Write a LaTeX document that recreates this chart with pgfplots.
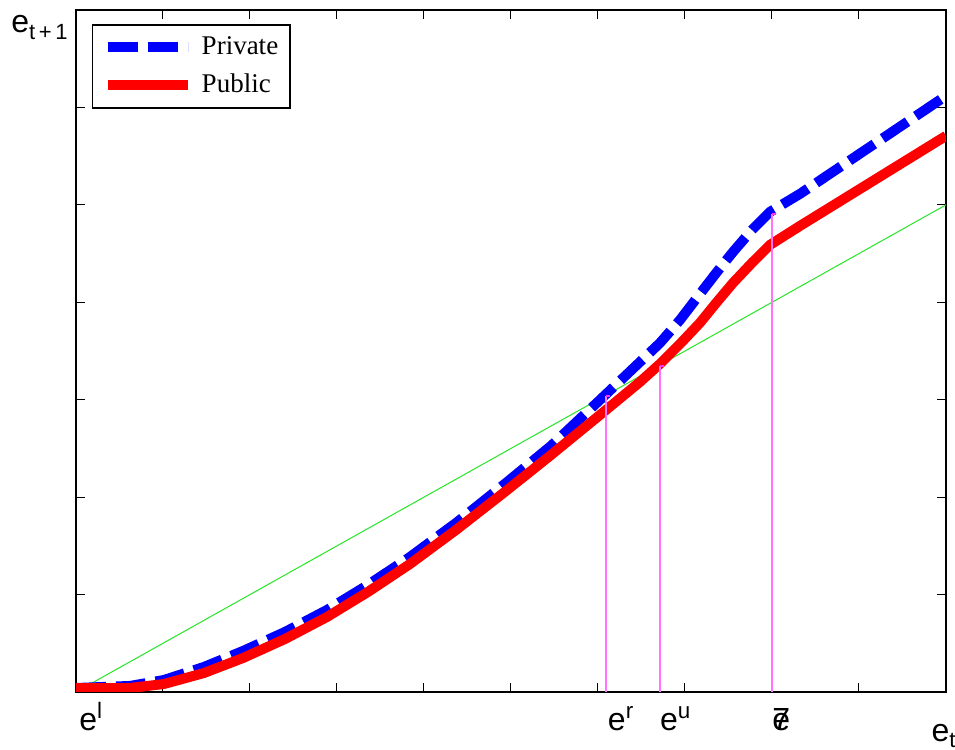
\documentclass[border=0pt]{standalone}
\usepackage{fontspec}
\setmainfont{Liberation Serif}
\setsansfont{Liberation Sans}
\usepackage{pgfplots}
\usepackage{pgfplotstable}
\pgfplotsset{compat=1.18}
\definecolor{PinkLine}{rgb}{1,0.45,1}
\definecolor{PinkTop}{rgb}{0.95,0.2,0.95}
\definecolor{GreenLine}{rgb}{0.15,0.9,0.15}

% private sector path
\pgfplotstableread{
x y
0 0.041
0.621 0.062
1.011 0.123
1.471 0.257
1.920 0.421
2.402 0.616
2.885 0.842
3.356 1.099
3.839 1.386
4.368 1.735
4.943 2.146
5.460 2.526
6.023 2.998
6.483 3.388
6.713 3.583
6.943 3.819
7.172 4.086
7.368 4.312
7.552 4.517
7.770 4.743
7.977 4.928
8.322 5.113
10.0 6.119
}\privtab

% public sector path
\pgfplotstableread{
x y
0 0.041
0.621 0.041
1.011 0.082
1.471 0.195
1.920 0.349
2.402 0.544
2.885 0.770
3.356 1.027
3.839 1.314
4.368 1.663
4.943 2.064
5.460 2.433
6.023 2.844
6.483 3.183
6.713 3.368
6.943 3.573
7.172 3.789
7.368 4.004
7.552 4.199
7.770 4.405
7.977 4.589
8.322 4.784
10.0 5.708
}\pubtab

\newcommand{\lbl}{\sffamily\fontsize{16}{18}\selectfont}
\newcommand{\sub}[1]{\raisebox{-3.5pt}{\fontsize{11}{11}\selectfont #1}}

\begin{document}
\begin{tikzpicture}
\begin{axis}[
 scale only axis, width=435pt, height=341pt,
 xmin=0, xmax=10, ymin=0, ymax=7,
 xtick={0,...,10}, ytick={0,...,7},
 xticklabels={}, yticklabels={},
 tick align=inside, major tick length=4.5pt,
 tick style={black, line width=0.5pt},
 axis line style={line width=0.8pt},
 clip mode=individual,
 legend style={at={(0,1)}, anchor=north west, xshift=8pt, yshift=-7pt,
   draw=black, line width=0.75pt, inner xsep=5pt, inner ysep=3.75pt,
   font=\fontsize{13.5}{16}\selectfont, row sep=4pt, column sep=3.5pt,
   nodes={inner sep=1pt, text height=10pt, text depth=3pt},
   cells={anchor=west}},
 legend image code/.code={\draw[#1] (0pt,0pt) -- (40pt,0pt);},
]
\addplot[GreenLine, line width=0.5pt, forget plot] coordinates {(0,0) (10,5)};
\addplot[blue, line width=5pt, dash pattern=on 15pt off 5pt, line join=round] table {\privtab};
\addlegendentry{Private}
\addplot[red, line width=5pt, line join=round] table {\pubtab};
\addlegendentry{Public}
\addplot[PinkLine, line width=0.8pt, forget plot] coordinates {(6.09,0) (6.09,3.04)};
\addplot[PinkLine, line width=0.8pt, forget plot] coordinates {(6.71,0) (6.71,3.35)};
\addplot[PinkLine, line width=0.8pt, forget plot] coordinates {(8.00,0) (8.00,4.91)};
\addplot[PinkTop, line width=0.9pt, forget plot] coordinates {(6.09,3.04) (6.14,3.04)};
\addplot[PinkTop, line width=0.9pt, forget plot] coordinates {(6.71,3.35) (6.76,3.35)};
\addplot[PinkTop, line width=0.9pt, forget plot] coordinates {(8.00,4.91) (8.05,4.91)};

\node[anchor=base west, inner sep=0pt, font=\lbl] at (axis cs:0.035,0) [yshift=-19.5pt] {e\textsuperscript{l}};
\node[anchor=base west, inner sep=0pt, font=\lbl] at (axis cs:6.11,0) [yshift=-19.5pt] {e\textsuperscript{r}};
\node[anchor=base west, inner sep=0pt, font=\lbl] at (axis cs:6.71,0) [yshift=-19.5pt] {e\textsuperscript{u}};
\node[anchor=base west, inner sep=0pt, font=\lbl] at (axis cs:8.0,0) [yshift=-19.5pt] {\makebox[0pt][l]{7}e};
\node[anchor=base west, inner sep=0pt, font=\lbl] at (axis cs:9.83,0) [yshift=-25pt] {e\raisebox{-3pt}{\fontsize{11}{11}\selectfont t}};
\node[anchor=base west, inner sep=0pt, font=\lbl] at (axis description cs:0,1) [xshift=-32.5pt, yshift=-11pt] {e\sub{t\,+\,1}};
\end{axis}
\pgfresetboundingbox
\path[use as bounding box] (-38pt,-29pt) rectangle (439.5pt,346pt);
\end{tikzpicture}
\end{document}
